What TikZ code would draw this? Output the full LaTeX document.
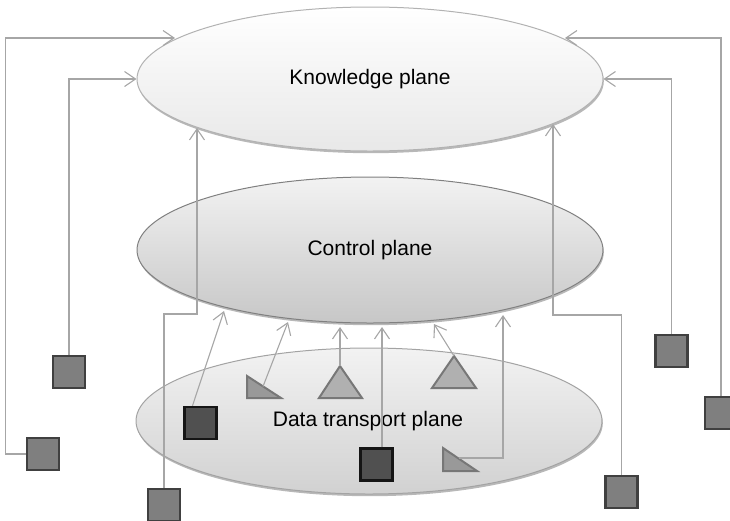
\documentclass[tikz,border=0pt]{standalone}
\usepackage{fontspec}
\setmainfont{Liberation Sans}
\usetikzlibrary{arrows.meta,shapes.geometric,shadows}

\definecolor{connline}{HTML}{A6A6A6}
\definecolor{sqfill}{HTML}{7F7F7F}
\definecolor{sqedge}{HTML}{404040}
\definecolor{dkfill}{HTML}{505050}
\definecolor{dkedge}{HTML}{151515}
\definecolor{trifill}{HTML}{B0B0B0}
\definecolor{rtfill}{HTML}{999999}
\definecolor{triedge}{HTML}{777777}

\tikzset{
  plane/.style={ellipse, minimum width=466pt, minimum height=#1, inner sep=0pt,
    font=\fontsize{21}{25}\selectfont, shading=axis,
    drop shadow={shadow xshift=0.8pt, shadow yshift=-2.2pt, fill=black!28, opacity=1}},
  conn/.style={draw=connline, line width=1.1pt,
    -{Straight Barb[length=11pt,width=15pt,line width=1.1pt]}},
  graysq/.style={rectangle, minimum size=32pt, inner sep=0pt, fill=sqfill,
    draw=sqedge, line width=2.4pt},
  darksq/.style={rectangle, minimum size=32pt, inner sep=0pt, fill=dkfill,
    draw=dkedge, line width=2.4pt},
  isotri/.style={fill=trifill, draw=triedge, line width=2pt, line join=miter},
  righttri/.style={fill=rtfill, draw=triedge, line width=2pt, line join=miter},
}

\begin{document}
\begin{tikzpicture}[x=1pt,y=-1pt]
\useasboundingbox (0,0) rectangle (730,520);
\clip (0,0) rectangle (730,520);

% the three planes
\node[plane=144pt, top color=white, bottom color=black!9, draw=black!30, line width=1pt]
  (kp) at (370,79) {Knowledge plane};
\node[plane=146pt, top color=black!5, bottom color=black!22, draw=black!50, line width=1pt]
  (cp) at (370,250) {Control plane};
\node[plane=146pt, top color=black!5, bottom color=black!18, draw=black!36, line width=1pt]
  (dp) at (369,421) {};
\node[font=\fontsize{21}{25}\selectfont] (dplabel) at (368,421) {Data transport plane};

% endpoints on the knowledge plane
\coordinate (kpA) at (175,38);
\coordinate (kpB) at (197,128);
\coordinate (kpC) at (565,38);
\coordinate (kpD) at (553,124);

% endpoints on the control plane
\coordinate (cpA) at (224,311);
\coordinate (cpB) at (288,322);
\coordinate (cpC) at (340,327);
\coordinate (cpE) at (382,327);
\coordinate (cpF) at (434,324);
\coordinate (cpG) at (503,315);

% outer agents
\node[graysq] (sq1) at (43,454) {};
\node[graysq] (sq2) at (69,372) {};
\node[graysq] (sq3) at (164,505) {};
\node[graysq] (sq4) at (671.5,351) {};
\node[graysq] (sq5) at (721,413) {};
\node[graysq] (sq6) at (621.5,492) {};

% data plane elements
\node[darksq] (dk1) at (200.5,423) {};
\node[darksq] (dk2) at (376.5,464.5) {};

\path[righttri] (247,376) -- (247,398) -- (281,398) -- cycle;
\coordinate (rt1) at (263,386.5);
\path[isotri] (340,366) -- (362,398) -- (319,398) -- cycle;
\coordinate (it1) at (340,366);
\path[isotri] (454,356) -- (476,388) -- (432,388) -- cycle;
\coordinate (it2) at (454,356);
\path[righttri] (443,448) -- (443,471) -- (477,471) -- cycle;
\coordinate (rt2) at (459,458);

% connectors to the knowledge plane
\draw[conn] (sq1.west) -- ++(-20,0) |- (kpA);
\draw[conn] (sq2.north) |- (kp.west);
\draw[conn] (sq3.north) -- (164,314) -| (kpB);
\draw[conn] (sq4.north) |- (kp.east);
\draw[conn] (sq5.north) |- (kpC);
\draw[conn] (sq6.north) -- (621.5,315) -| (kpD);

% connectors to the control plane
\draw[conn] (dk1.115) -- (cpA);
\draw[conn] (rt1) -- (cpB);
\draw[conn] (it1) -- (cpC);
\draw[conn] (dk2.north -| cpE) -- (cpE);
\draw[conn] (it2) -- (cpF);
\draw[conn] (rt2) -| (cpG);
\end{tikzpicture}
\end{document}
